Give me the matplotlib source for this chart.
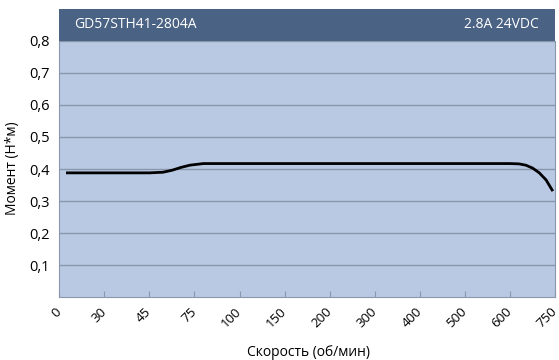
import matplotlib.pyplot as plt
from matplotlib.patches import Rectangle

plt.rcParams['font.family'] = ['Open Sans', 'DejaVu Sans']

# category labels on the x axis (speed, rpm)
speed_labels = ['0', '30', '45', '75', '100', '150', '200', '300', '400', '500', '600', '750']

# curve: position along the category axis and torque (N*m)
curve_pos = [0.15, 1.0, 2.0, 2.3, 2.5, 2.7, 2.9, 3.2, 4.0, 6.0, 8.0, 10.0, 10.2,
             10.35, 10.5, 10.65, 10.8, 10.95]
curve_torque = [0.388, 0.388, 0.388, 0.390, 0.396, 0.405, 0.412, 0.417, 0.417,
                0.417, 0.417, 0.417, 0.416, 0.412, 0.403, 0.388, 0.366, 0.331]

y_ticks = [0.1, 0.2, 0.3, 0.4, 0.5, 0.6, 0.7, 0.8]

title_left = 'GD57STH41-2804A'
title_right = '2.8A 24VDC'

bg = '#B9C9E3'
header = '#4A6283'
grid_col = '#8A96AA'

fig = plt.figure(figsize=(5.59, 3.6), dpi=100)
ax = fig.add_axes([0.106, 0.174, 0.887, 0.713])
ax.set_facecolor(bg)

ax.plot(curve_pos, curve_torque, color='black', lw=2.0, solid_capstyle='butt')

ax.set_xlim(0, len(speed_labels) - 1)
ax.set_ylim(0, 0.8)
ax.set_xticks(range(len(speed_labels)))
ax.set_xticklabels(speed_labels, rotation=45, rotation_mode='anchor', ha='right', va='center')
ax.set_yticks(y_ticks)
ax.set_yticklabels([f'{v:.1f}'.replace('.', ',') for v in y_ticks])
ax.tick_params(axis='x', direction='in', length=4, color=grid_col, pad=9, labelsize=9.5)
ax.tick_params(axis='y', length=0, pad=7, labelsize=10.5)
ax.grid(axis='y', color=grid_col, lw=1.0)
ax.set_axisbelow(True)
for side in ['left', 'bottom', 'right']:
    ax.spines[side].set_color(grid_col)
ax.spines['top'].set_visible(False)

# dark header band above the plot
fig.patches.append(Rectangle((0.106, 0.887), 0.887, 0.088, transform=fig.transFigure,
                             facecolor=header, edgecolor='none', zorder=0))
fig.text(0.132, 0.931, title_left, color='white', fontsize=10, va='center', ha='left')
fig.text(0.964, 0.931, title_right, color='white', fontsize=10, va='center', ha='right')

fig.text(0.022, 0.533, 'Момент (Н*м)', rotation=90, ha='center', va='center', fontsize=10)
fig.text(0.551, 0.022, 'Скорость (об/мин)', ha='center', va='center', fontsize=10)

fig.savefig('out.png', dpi=100)
